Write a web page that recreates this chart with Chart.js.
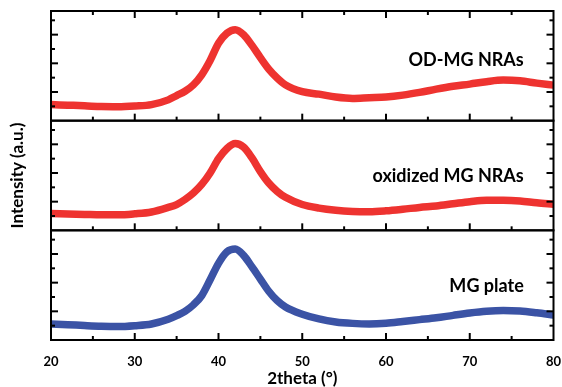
<!DOCTYPE html>
<html>
<head>
<meta charset="utf-8">
<script src="https://cdn.jsdelivr.net/npm/chart.js@4.4.1/dist/chart.umd.min.js"></script>
<style>
  html, body { margin: 0; padding: 0; background: #fff; }
  canvas { display: block; }
</style>
</head>
<body>
<canvas id="myChart" width="562" height="387"></canvas>
<script>
const twoTheta = [20, 22, 24, 26, 28, 30, 32, 34, 35, 36, 37, 38, 39, 40, 41, 42, 43, 44, 45, 46, 47, 48,
   50, 52, 54, 56, 58, 60, 62, 64, 66, 68, 70, 72, 74, 76, 78, 80];

const odMgNras = [1.12, 1.08, 1.04, 0.98, 0.97, 1.02, 1.12, 1.45, 1.75, 2.05, 2.5, 3.2, 4.2, 5.4, 6.1, 6.35, 6.0, 5.25, 4.4, 3.6, 2.98, 2.5,
   2.02, 1.85, 1.65, 1.55, 1.6, 1.65, 1.78, 1.97, 2.2, 2.4, 2.55, 2.72, 2.83, 2.78, 2.62, 2.48];

const oxidizedMgNras = [1.17, 1.14, 1.11, 1.08, 1.08, 1.15, 1.28, 1.6, 1.8, 2.15, 2.6, 3.2, 4.0, 5.0, 5.7, 6.05, 5.8, 5.05, 4.1, 3.3, 2.72, 2.3,
   1.8, 1.55, 1.4, 1.32, 1.3, 1.36, 1.47, 1.6, 1.7, 1.85, 2.0, 2.1, 2.1, 2.05, 1.92, 1.82];

const mgPlate = [1.12, 1.07, 1.01, 0.96, 0.94, 1.0, 1.12, 1.45, 1.7, 2.0, 2.45, 3.1, 4.2, 5.35, 6.15, 6.35, 5.9, 5.1, 4.25, 3.4, 2.75, 2.3,
   1.8, 1.47, 1.26, 1.16, 1.12, 1.17, 1.29, 1.42, 1.55, 1.72, 1.88, 2.0, 2.05, 2.02, 1.9, 1.75];

const panelNames = ['OD-MG NRAs', 'oxidized MG NRAs', 'MG plate'];
const xTickLabels = [20, 30, 40, 50, 60, 70, 80];

Chart.defaults.font.family = 'Lato';
Chart.defaults.color = '#000';

const red = '#ee3330';
const blue = '#3b53a5';

function points(ys) {
   return twoTheta.map((t, i) => ({ x: t, y: ys[i] }));
}

// panel frames, inward ticks and sample names
const panelPlugin = {
   id: 'panels',
   afterDatasetsDraw(chart) {
      const ctx = chart.ctx;
      const xs = chart.scales.x;
      const ids = ['yOd', 'yOx', 'yPlate'];
      const nameAt = [3.8, 3.4, 3.35];
      const line = (x1, y1, x2, y2) => {
         ctx.beginPath();
         ctx.moveTo(x1, y1);
         ctx.lineTo(x2, y2);
         ctx.stroke();
      };
      ctx.save();
      ctx.strokeStyle = '#000';
      ctx.fillStyle = '#000';
      ctx.lineWidth = 2;
      ids.forEach((id, p) => {
         const ys = chart.scales[id];
         const left = xs.left, right = xs.right, top = ys.top, bottom = ys.bottom;
         ctx.strokeRect(left, top, right - left, bottom - top);
         for (let v = 25; v < 80; v += 5) {
            const px = xs.getPixelForValue(v);
            const len = v % 10 === 0 ? 7 : 4;
            line(px, bottom, px, bottom - len);
            if (p === 0) line(px, top, px, top + len);
         }
         for (let v = 1; v <= 7; v++) {
            const py = ys.getPixelForValue(v);
            const len = v % 2 === 0 ? 7 : 4;
            line(left, py, left + len, py);
            line(right, py, right - len, py);
         }
         ctx.font = 'bold 18px Lato';
         ctx.textAlign = 'right';
         ctx.textBaseline = 'alphabetic';
         ctx.fillText(panelNames[p], xs.getPixelForValue(76.45), ys.getPixelForValue(nameAt[p]));
      });
      ctx.restore();
   },
};

const panelAxis = (title) => ({
   type: 'linear',
   position: 'left',
   stack: 'panels',
   stackWeight: 1,
   min: 0,
   max: 7.65,
   ticks: { display: false },
   grid: { display: false },
   border: { display: false },
   title: {
      display: !!title,
      text: title || '',
      font: { size: 17, weight: 'bold' },
      padding: { top: 7, bottom: 0 },
   },
   afterFit: (s) => { s.width = 51; },
});

const config = {
   type: 'line',
   data: {
      datasets: [
         { label: panelNames[2], data: points(mgPlate), yAxisID: 'yPlate', borderColor: blue },
         { label: panelNames[1], data: points(oxidizedMgNras), yAxisID: 'yOx', borderColor: red },
         { label: panelNames[0], data: points(odMgNras), yAxisID: 'yOd', borderColor: red },
      ],
   },
   options: {
      responsive: false,
      animation: false,
      layout: { padding: { top: 11, right: 8.5, left: 0, bottom: 0 } },
      elements: {
         point: { radius: 0 },
         line: { borderWidth: 7.5, cubicInterpolationMode: 'monotone', borderJoinStyle: 'round' },
      },
      datasets: { line: { clip: 0 } },
      plugins: { legend: { display: false }, tooltip: { enabled: false } },
      scales: {
         x: {
            type: 'linear',
            position: 'bottom',
            min: 20,
            max: 80,
            afterBuildTicks: (s) => { s.ticks = xTickLabels.map((v) => ({ value: v })); },
            ticks: { font: { size: 13, weight: 'bold' }, padding: 6, maxRotation: 0 },
            grid: { display: false },
            border: { display: false },
            title: {
               display: true,
               text: '2theta (°)',
               font: { size: 17, weight: 'bold', lineHeight: 1 },
               padding: { top: 0, bottom: 0 },
            },
            afterFit: (s) => {
               s.height = 47;
               s.paddingLeft = 0;
               s.paddingRight = 0;
            },
         },
         yPlate: panelAxis(null),
         yOx: panelAxis('Intensity (a.u.)'),
         yOd: panelAxis(null),
      },
   },
   plugins: [panelPlugin],
};

const myChart = new Chart(document.getElementById('myChart'), config);
</script>
</body>
</html>
